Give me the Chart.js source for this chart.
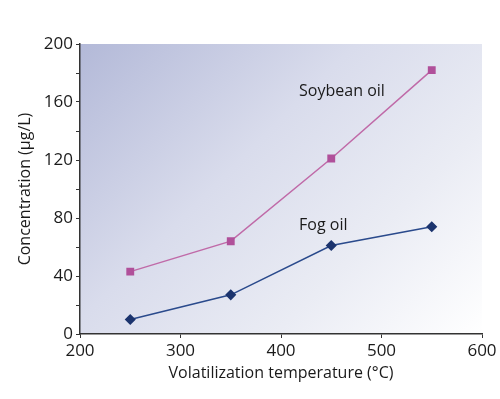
<!DOCTYPE html>
<html>
<head>
<meta charset="utf-8">
<script src="https://cdn.jsdelivr.net/npm/chart.js@4"></script>
<style>
  html, body { margin: 0; padding: 0; background: #fff; }
  #wrap { width: 500px; height: 399px; }
</style>
</head>
<body>
<div id="wrap"><canvas id="oilChart"></canvas></div>
<script>
// data
const temps = [250, 350, 450, 550];
const soybean = [43, 64, 121, 182];
const fogOil = [10, 27, 61, 74];
const xTicks = [200, 300, 400, 500, 600];
const yTicks = [0, 40, 80, 120, 160, 200];

// where the in-plot labels sit (in data units)
const seriesLabels = [
  { text: "Soybean oil", x: 418, y: 167 },
  { text: "Fog oil", x: 418, y: 75 }
];

const FONT = "'Open Sans', 'Noto Sans', sans-serif";

// gradient behind the plot, darkest top left
const bgPlugin = {
  id: "bg",
  beforeDraw(chart) {
    const { ctx, chartArea: a } = chart;
    const w = a.right - a.left, h = a.bottom - a.top;
    const d = (w + h) / 2;
    const g = ctx.createLinearGradient(a.left, a.top, a.left + d, a.top + d);
    g.addColorStop(0, "#b3b9d8");
    g.addColorStop(0.4, "#d9dcec");
    g.addColorStop(0.7, "#eaecf4");
    g.addColorStop(1, "#ffffff");
    ctx.save();
    ctx.fillStyle = g;
    ctx.fillRect(a.left, a.top, w, h);
    ctx.restore();
  }
};

const labelPlugin = {
  id: "seriesLabels",
  afterDatasetsDraw(chart) {
    const { ctx, scales } = chart;
    ctx.save();
    ctx.font = "16px " + FONT;
    ctx.fillStyle = "#1a1a1a";
    ctx.textBaseline = "middle";
    seriesLabels.forEach(l => {
      ctx.fillText(l.text, scales.x.getPixelForValue(l.x), scales.y.getPixelForValue(l.y));
    });
    ctx.restore();
  }
};

new Chart(document.getElementById("oilChart"), {
  type: "line",
  data: {
    datasets: [{
      label: "Soybean oil",
      data: temps.map((t, i) => ({ x: t, y: soybean[i] })),
      borderColor: "#c06aa8",
      backgroundColor: "#b0509a",
      pointBackgroundColor: "#b0509a",
      pointBorderColor: "#b0509a",
      pointStyle: "rect",
      pointRadius: 4.5,
      borderWidth: 1.5
    }, {
      label: "Fog oil",
      data: temps.map((t, i) => ({ x: t, y: fogOil[i] })),
      borderColor: "#2a4a8c",
      backgroundColor: "#1c346e",
      pointBackgroundColor: "#1c346e",
      pointBorderColor: "#1c346e",
      pointStyle: "rectRot",
      pointRadius: 4.5,
      borderWidth: 1.5
    }]
  },
  options: {
    responsive: true,
    maintainAspectRatio: false,
    animation: false,
    layout: { padding: { top: 44, right: 18, left: 0, bottom: 0 } },
    plugins: {
      legend: { display: false },
      tooltip: { enabled: false }
    },
    scales: {
      x: {
        type: "linear",
        min: 200,
        max: 600,
        afterBuildTicks(s) { s.ticks = xTicks.map(v => ({ value: v })); },
        afterFit(s) { s.height = 65; },
        grid: { drawOnChartArea: false, tickLength: 4, color: "#333" },
        border: { color: "#333", width: 1.5 },
        ticks: { color: "#1a1a1a", font: { family: FONT, size: 17 }, padding: 3, maxRotation: 0 },
        title: { display: true, text: "Volatilization temperature (°C)", color: "#1a1a1a", font: { family: FONT, size: 16 }, padding: { top: 0, bottom: 16 } }
      },
      y: {
        min: 0,
        max: 200,
        ticks: {
          stepSize: 20,
          color: "#1a1a1a",
          font: { family: FONT, size: 17 },
          padding: 3,
          callback: v => yTicks.includes(v) ? v : ""
        },
        afterFit(s) { s.width = 80; },
        grid: { drawOnChartArea: false, tickLength: 4, color: "#333" },
        border: { color: "#333", width: 1.5 },
        title: { display: true, text: "Concentration (µg/L)", color: "#1a1a1a", font: { family: FONT, size: 16 }, padding: { top: 16, bottom: 0 } }
      }
    }
  },
  plugins: [bgPlugin, labelPlugin]
});
</script>
</body>
</html>
